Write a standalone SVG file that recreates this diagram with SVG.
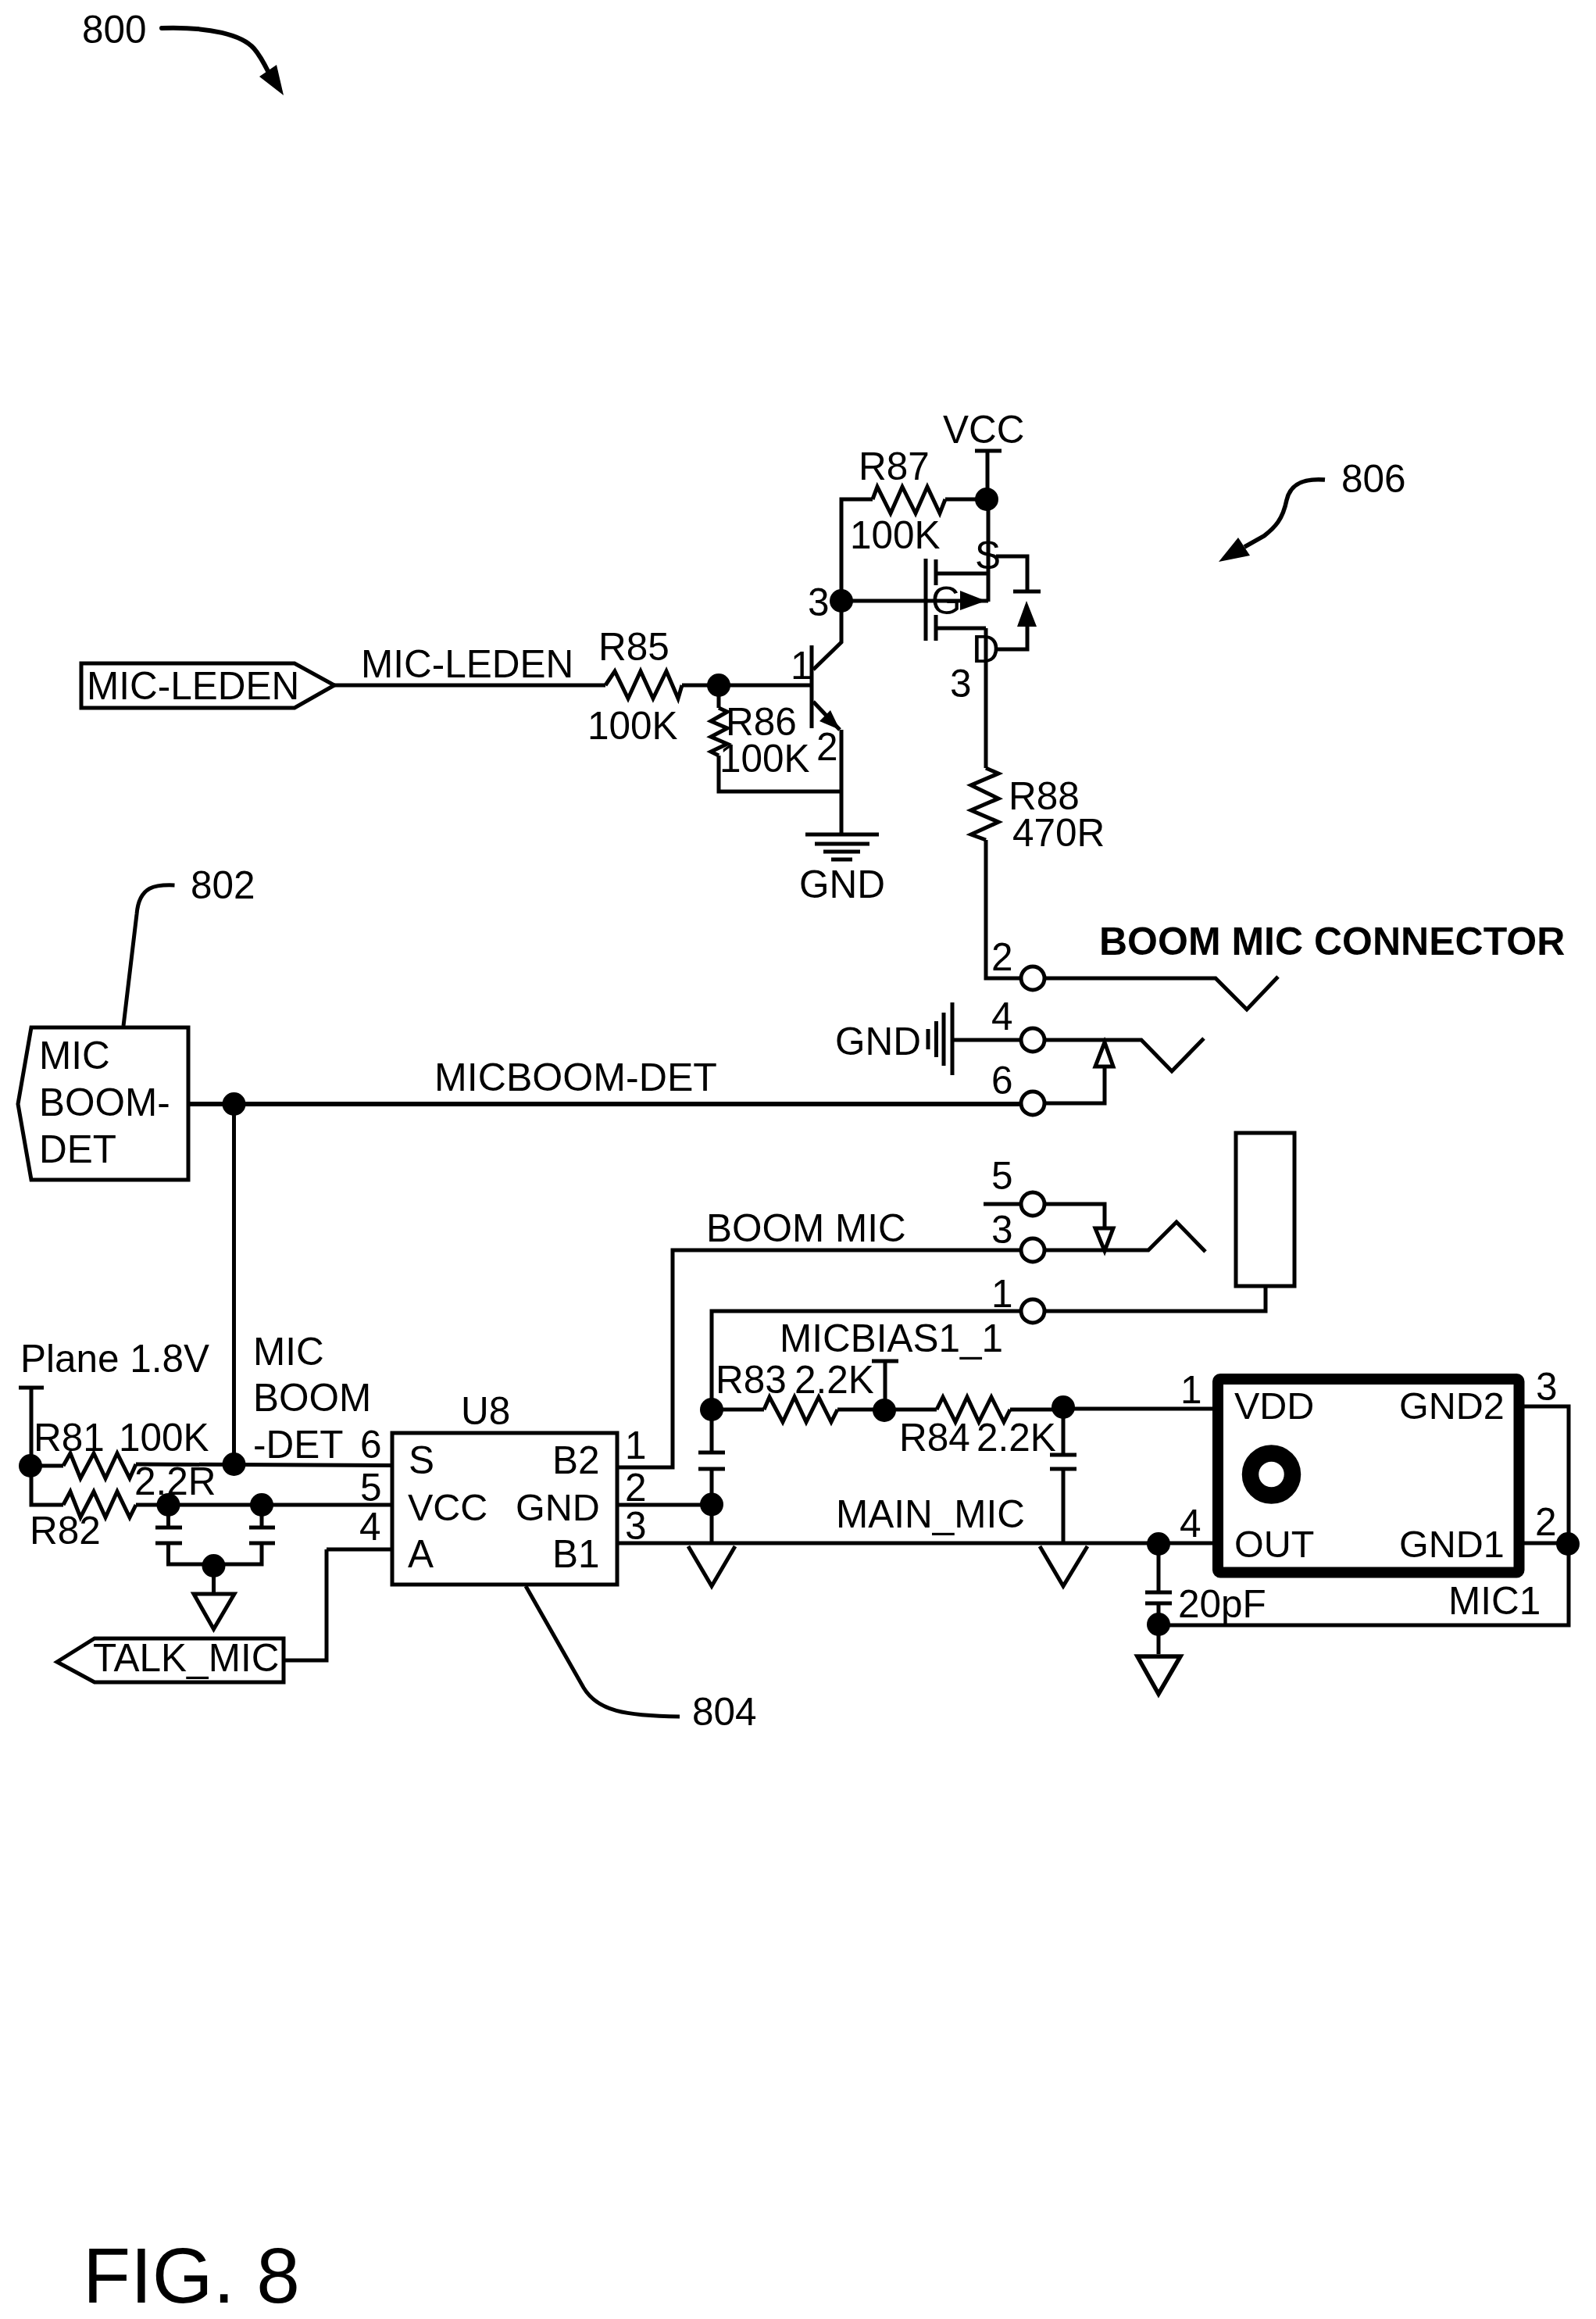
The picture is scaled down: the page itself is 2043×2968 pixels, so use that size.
<svg xmlns="http://www.w3.org/2000/svg" width="2043" height="2968" viewBox="0 0 2043 2968">
<style>
text{font-family:"Liberation Sans",Arial,sans-serif;font-size:49.5px;fill:#000}
.b{font-weight:bold;font-size:50px}
.n{font-size:48.5px}
.w{fill:none;stroke:#000;stroke-width:5;stroke-linejoin:miter}
.h{fill:#fff;stroke:#000;stroke-width:5}
.f{fill:#000;stroke:none}
.p{fill:#fff;stroke:#000;stroke-width:5}
</style>
<rect width="2043" height="2968" fill="#fff"/>
<defs>
<circle id="dot" r="15" class="f"/>
<circle id="pin" r="15" class="p"/>
</defs>
<g id="connectors">
<path class="w" d="M428 877H775"/>
<path class="w" d="M873 877H1039"/>
<path class="w" d="M920 877V906M920 967V1013H1077"/>
<path class="w" d="M1210 639H1263M1264 577V639"/>
<path class="w" d="M1117 639H1077V822L1041 857"/>
<path class="w" d="M1077 769H1265"/>
<path class="w" d="M1041 898L1075 934"/>
<path class="w" d="M1077 934V1068"/>
<path class="w" d="M1265 639V770"/>
<path class="w" d="M1262 804V983"/>
<path class="w" d="M1262 1075V1252H1306"/>
<path class="w" d="M1339 1252H1556L1596 1292L1636 1250"/>
<path class="w" d="M1220 1331H1306M1339 1331H1461L1500 1371L1541 1329"/>
<path class="w" style="stroke-width:6" d="M241 1413H1306"/>
<path class="w" d="M1339 1412H1414V1365"/>
<path class="w" d="M1259 1541H1306M1339 1541H1414V1572"/>
<path class="w" d="M790 1878H861V1600H1306M1339 1600H1470L1506 1564L1543 1602"/>
<path class="w" d="M911 1804V1678H1306M1339 1678H1620V1646"/>
<path class="w" d="M299.500 1413V1876"/>
<path class="w" d="M40 1776V1926H81M39 1876H81M174 1874L501 1875.500M174 1926H501"/>
<path class="w" d="M418 1983H502M418 1983V2125H363"/>
<path class="w" d="M790 1926H911M911 1880V1975M911 1804V1859"/>
<path class="w" d="M790 1975H1552"/>
<path class="w" d="M978 1804H911M1072 1804H1199M1293 1804H1361M1361 1803H1552"/>
<path class="w" d="M1133 1742V1805"/>
<path class="w" d="M1361 1801V1862M1361 1880V1975"/>
<path class="w" d="M215.500 1926V1955M215.500 1975V2002H335V1975M335 1926V1955M273.500 2004V2039"/>
<path class="w" d="M1483 1976V2038M1483 2052V2117"/>
<path class="w" d="M1483 2080H2008V1800H1951M1951 1975H2008"/>
<path class="w" d="M207 36C270 34 310 45 325 62C333 71 338 81 344 93" style="stroke-linecap:round;stroke-width:6"/>
<path class="w" d="M1696 614C1670 612 1652 618 1647 640C1642 665 1632 675 1618 686L1593 700" style="stroke-width:5.500"/>
<path class="w" d="M223.500 1133C200 1132 178 1133 175 1170L158 1313"/>
<path class="w" d="M673 2030L747 2160C765 2190 800 2196 870 2197"/>
</g>
<g id="arrows">
<path class="f" d="M363 122L332 98L354 83Z"/>
<path class="f" d="M1560 719L1585 688L1600 711Z"/>
</g>
<g id="label-800"><text x="105" y="55">800</text></g>
<g id="label-806"><text x="1717" y="630">806</text></g>
<g id="label-802"><text x="244" y="1150">802</text></g>
<g id="label-804"><text x="886" y="2208">804</text></g>
<g id="fig"><text x="106" y="2947" style="font-size:100px">FIG. 8</text></g>
<g id="VCC"><path class="w" d="M1248 577H1282"/><use href="#dot" x="1263" y="639"/><text x="1207" y="567">VCC</text></g>
<g id="R87"><path class="w" d="M1117 639L1123 623L1140 657L1155 623L1172 657L1187 623L1203 657L1210 639"/><text x="1099" y="614">R87</text><text x="1088" y="702">100K</text></g>
<g id="Q-npn">
<use href="#dot" x="1077" y="769"/>
<path class="w" d="M1039 826V932"/>
<path class="f" d="M1075 934L1049 923L1063 909Z"/>
<text x="1034" y="788">3</text><text x="1012" y="869">1</text><text x="1045" y="973">2</text>
</g>
<g id="Q-mosfet">
<path class="w" d="M1185 715V820M1198 716V749M1198 787V820M1198 734H1267M1198 804H1262"/>
<path class="f" d="M1262 769L1229 756V781Z"/>
<path class="w" d="M1275 712H1315V757M1297 757H1332M1315 802V831H1277"/>
<path class="f" d="M1314 769L1302 802H1327Z"/>
<text x="1248" y="728">S</text><text x="1192" y="786">G</text><text x="1244" y="848">D</text><text x="1216" y="892">3</text>
</g>
<g id="GND-top">
<path class="w" d="M1031 1068H1125M1043 1080H1113M1054 1090H1101M1064 1100H1091"/>
<text x="1023" y="1149">GND</text>
</g>
<g id="R88"><path class="w" d="M1262 983L1278 990L1243 1005L1278 1022L1243 1037L1278 1052L1243 1068L1262 1075"/><text x="1291" y="1036">R88</text><text x="1296" y="1083">470R</text></g>
<g id="MIC-LEDEN-port"><path class="h" d="M104 849H377L428 877L377 906H104Z"/><text x="111" y="895">MIC-LEDEN</text></g>
<g id="MIC-LEDEN-net"><text x="462" y="867">MIC-LEDEN</text></g>
<g id="R85"><path class="w" d="M775 877L787 859L804 894L820 859L836 894L853 859L868 894L873 877"/><text x="766" y="845">R85</text><text x="752" y="946">100K</text></g>
<g id="R86"><use href="#dot" x="920" y="877"/><path class="w" d="M920 906L931 911L910 923L931 932L910 943L931 952L910 962L920 967"/><text x="929" y="941">R86</text><text x="921" y="988">100K</text></g>
<g id="boom-connector">
<text class="b" x="1407" y="1222">BOOM MIC CONNECTOR</text>
<use href="#pin" x="1322" y="1252"/><text x="1269" y="1242">2</text>
<use href="#pin" x="1322" y="1331"/><text x="1269" y="1318">4</text>
<use href="#pin" x="1322" y="1412"/><text x="1269" y="1400">6</text>
<use href="#pin" x="1322" y="1541"/><text x="1269" y="1522">5</text>
<use href="#pin" x="1322" y="1600"/><text x="1269" y="1591">3</text>
<use href="#pin" x="1322" y="1678"/><text x="1269" y="1673">1</text>
<path class="h" d="M1414 1334L1402 1365H1425Z"/>
<path class="h" d="M1414 1601L1402 1572H1425Z"/>
<rect class="h" x="1582" y="1450" width="75" height="196"/>
<path class="w" d="M1219 1283V1376M1208 1296V1364M1198.500 1307V1353M1188 1317V1343"/>
<text x="1069" y="1350">GND</text>
</g>
<g id="MIC-BOOM-DET-port">
<path class="h" d="M40 1315H241V1510H40L23 1413Z"/>
<text x="50" y="1368">MIC</text><text x="50" y="1428">BOOM-</text><text x="50" y="1488">DET</text>
<use href="#dot" x="299.500" y="1413"/>
</g>
<g id="net-labels">
<text x="556" y="1396" textLength="362" lengthAdjust="spacingAndGlyphs">MICBOOM-DET</text>
<text x="904" y="1589">BOOM MIC</text>
<text x="998" y="1730">MICBIAS1_1</text>
<text x="1070" y="1955">MAIN_MIC</text>
<text x="324" y="1747">MIC</text><text x="324" y="1806">BOOM</text><text x="324" y="1866">-DET</text>
</g>
<g id="plane">
<path class="w" d="M24 1776H56"/>
<use href="#dot" x="39" y="1876"/>
<text x="26" y="1756" textLength="242" lengthAdjust="spacingAndGlyphs">Plane 1.8V</text>
</g>
<g id="R81"><path class="w" d="M81 1876L90 1860L103 1892L120 1860L135 1892L150 1860L166 1892L174 1874"/><use href="#dot" x="299.500" y="1874"/><text x="43" y="1857">R81</text><text x="152" y="1857">100K</text></g>
<g id="R82"><path class="w" d="M81 1926L90 1909L103 1942L120 1909L135 1942L150 1909L166 1942L174 1926"/><text x="38" y="1976">R82</text><text x="172" y="1913">2.2R</text></g>
<g id="decoupling">
<use href="#dot" x="215.500" y="1926"/><use href="#dot" x="335" y="1926"/>
<path class="w" d="M199 1955H233M199 1975H233M319 1955H352M319 1975H352"/>
<use href="#dot" x="273.500" y="2004"/>
<path class="h" d="M248 2040H300L273.500 2085Z"/>
</g>
<g id="TALK_MIC-port"><path class="h" d="M363 2097H121L73 2127L121 2153H363Z"/><text x="119" y="2139">TALK_MIC</text></g>
<g id="U8">
<rect class="h" x="502" y="1834" width="288" height="194"/>
<text x="590" y="1823">U8</text>
<text x="461" y="1866">6</text><text x="461" y="1921">5</text><text x="460" y="1971">4</text>
<text x="523" y="1886">S</text><text class="n" x="522" y="1946">VCC</text><text x="522" y="2006">A</text>
<text x="707" y="1886">B2</text><text class="n" x="660" y="1946">GND</text><text x="707" y="2006">B1</text>
<text x="800" y="1867">1</text><text x="800" y="1921">2</text><text x="800" y="1970">3</text>
</g>
<g id="R83"><use href="#dot" x="911" y="1804"/><use href="#dot" x="911" y="1925.500"/>
<path class="w" d="M978 1804L985 1788L1002 1820L1017 1788L1032 1820L1048 1788L1064 1820L1072 1804"/>
<text x="916" y="1783">R83</text><text x="1017" y="1783">2.2K</text>
<path class="w" d="M894 1859H928M894 1880H928"/>
</g>
<g id="MICBIAS-T"><path class="w" d="M1116 1742H1150"/><use href="#dot" x="1132" y="1805"/></g>
<g id="R84"><path class="w" d="M1199 1804L1207 1788L1223 1820L1238 1788L1253 1820L1269 1788L1285 1820L1293 1804"/>
<text x="1151" y="1857">R84</text><text x="1250" y="1857">2.2K</text>
<use href="#dot" x="1361" y="1801"/><path class="w" d="M1344 1862H1378M1344 1880H1378"/></g>
<g id="gnd-main">
<path class="w" d="M881 1979L911 2030L941 1979"/>
<path class="w" d="M1331 1979L1361 2030L1392 1979"/>
</g>
<g id="MIC1">
<rect x="1559" y="1765" width="385.500" height="247.500" rx="3" fill="#fff" stroke="#000" stroke-width="14"/>
<circle cx="1627.500" cy="1887" r="27" fill="none" stroke="#000" stroke-width="21.500"/>
<text class="n" x="1580" y="1816">VDD</text><text class="n" x="1791" y="1816">GND2</text>
<text class="n" x="1580" y="1993">OUT</text><text class="n" x="1791" y="1993">GND1</text>
<text x="1854" y="2066">MIC1</text>
<text x="1511" y="1796">1</text><text x="1510" y="1967">4</text><text x="1966" y="1792">3</text><text x="1965" y="1965">2</text>
<use href="#dot" x="2007" y="1976"/>
</g>
<g id="C20pF">
<use href="#dot" x="1483" y="1976"/><use href="#dot" x="1483" y="2079"/>
<path class="w" d="M1466 2038H1500M1466 2052H1500"/>
<text x="1508" y="2070">20pF</text>
<path class="h" style="stroke-width:5.500" d="M1456 2120H1511L1483 2168Z"/>
</g>
</svg>
